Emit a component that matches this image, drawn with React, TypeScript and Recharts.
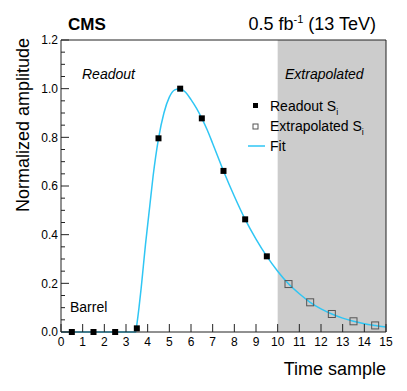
import React from "react";
import {
  ComposedChart,
  Line,
  Scatter,
  XAxis,
  YAxis,
  ReferenceArea,
} from "recharts";

type Pt = { x: number; y: number };

// readout samples (black squares)
const readoutX = [0.5, 1.5, 2.5, 3.5, 4.5, 5.5, 6.5, 7.5, 8.5, 9.5];
const readoutY = [0, 0, 0, 0.015, 0.796, 1.0, 0.878, 0.662, 0.463, 0.311];

// extrapolated samples (open squares)
const extrapX = [10.5, 11.5, 12.5, 13.5, 14.5];
const extrapY = [0.197, 0.122, 0.074, 0.044, 0.027];

// fit curve
const fitX = [
  0, 3.45, 3.5, 3.6, 3.7, 3.8, 3.9, 4.0, 4.1, 4.25, 4.5, 4.75, 5.0, 5.25, 5.5,
  5.75, 6.0, 6.25, 6.5, 6.75, 7.0, 7.5, 8.0, 8.5, 9.0, 9.5, 10, 10.5, 11, 11.5,
  12, 12.5, 13, 13.5, 14, 14.5, 15,
];
const fitY = [
  0, 0, 0.03, 0.1, 0.18, 0.27, 0.36, 0.44, 0.52, 0.64, 0.795, 0.9, 0.965,
  0.995, 1.0, 0.985, 0.955, 0.92, 0.878, 0.83, 0.775, 0.662, 0.558, 0.463,
  0.382, 0.311, 0.25, 0.198, 0.157, 0.122, 0.095, 0.074, 0.057, 0.044, 0.034,
  0.027, 0.021,
];

const xTicks = [0, 1, 2, 3, 4, 5, 6, 7, 8, 9, 10, 11, 12, 13, 14, 15];
const yMajorTicks = [0, 0.2, 0.4, 0.6, 0.8, 1.0, 1.2];
const yMinorTicks = [
  0.05, 0.1, 0.15, 0.25, 0.3, 0.35, 0.45, 0.5, 0.55, 0.65, 0.7, 0.75, 0.85,
  0.9, 0.95, 1.05, 1.1, 1.15,
];

const zip = (xs: number[], ys: number[]): Pt[] =>
  xs.map((x, i) => ({ x, y: ys[i] }));

const readout = zip(readoutX, readoutY);
const extrap = zip(extrapX, extrapY);
const fit = zip(fitX, fitY);
const yTicks = [...yMajorTicks, ...yMinorTicks].sort((a, b) => a - b);

const FRAME = "#222";
const FIT = "#2fc6f4";
const W = 407;
const H = 391;

const isMajor = (v: number) => Math.abs(v * 5 - Math.round(v * 5)) < 1e-6;

const BottomTick = (props: any) => {
  const { x, y, payload } = props;
  return (
    <g>
      <line x1={x} y1={y} x2={x} y2={y - 8} stroke={FRAME} />
      <text x={x} y={y + 14} textAnchor="middle" fontSize={12} fill="#000">
        {payload.value}
      </text>
    </g>
  );
};

const TopTick = (props: any) => {
  const { x, y } = props;
  return <line x1={x} y1={y} x2={x} y2={y + 8} stroke={FRAME} />;
};

const LeftTick = (props: any) => {
  const { x, y, payload } = props;
  const major = isMajor(payload.value);
  return (
    <g>
      <line x1={x} y1={y} x2={x + (major ? 8 : 4)} y2={y} stroke={FRAME} />
      {major && (
        <text x={x - 3} y={y} dy="0.35em" textAnchor="end" fontSize={12} fill="#000">
          {payload.value.toFixed(1)}
        </text>
      )}
    </g>
  );
};

const RightTick = (props: any) => {
  const { x, y, payload } = props;
  const major = isMajor(payload.value);
  return <line x1={x} y1={y} x2={x - (major ? 8 : 4)} y2={y} stroke={FRAME} />;
};

const FilledSquare = (p: any) => (
  <rect x={p.cx - 3} y={p.cy - 3} width={6} height={6} fill="#000" />
);

const OpenSquare = (p: any) => (
  <rect
    x={p.cx - 3.5}
    y={p.cy - 3.5}
    width={7}
    height={7}
    fill="none"
    stroke="#555"
  />
);

const PulseChart: React.FC = () => {
  return (
    <div
      style={{
        position: "absolute",
        left: 0,
        top: 0,
        width: W,
        height: H,
        background: "#fff",
        fontFamily: "'Liberation Sans', Arial, sans-serif",
      }}
    >
      <ComposedChart
        width={W}
        height={H}
        margin={{ top: 39, right: 20, bottom: 39, left: 60 }}
      >
        <ReferenceArea
          x1={10}
          x2={15}
          y1={0}
          y2={1.2}
          fill="#cccccc"
          fillOpacity={1}
          stroke="none"
        />
        <Line
          data={fit}
          dataKey="y"
          type="monotone"
          stroke={FIT}
          strokeWidth={1.5}
          dot={false}
          isAnimationActive={false}
        />
        <Scatter
          data={readout}
          dataKey="y"
          shape={FilledSquare}
          isAnimationActive={false}
        />
        <Scatter
          data={extrap}
          dataKey="y"
          shape={OpenSquare}
          isAnimationActive={false}
        />
        <XAxis
          dataKey="x"
          type="number"
          domain={[0, 15]}
          ticks={xTicks}
          interval={0}
          height={20}
          tickSize={0}
          tickMargin={0}
          tick={BottomTick}
          stroke={FRAME}
        />
        <XAxis
          xAxisId="top"
          orientation="top"
          dataKey="x"
          type="number"
          domain={[0, 15]}
          ticks={xTicks}
          interval={0}
          height={1}
          tickSize={0}
          tickMargin={0}
          tick={TopTick}
          stroke={FRAME}
        />
        <YAxis
          dataKey="y"
          type="number"
          domain={[0, 1.2]}
          ticks={yTicks}
          interval={0}
          width={1}
          tickSize={0}
          tickMargin={0}
          tick={LeftTick}
          stroke={FRAME}
        />
        <YAxis
          yAxisId="right"
          orientation="right"
          dataKey="y"
          type="number"
          domain={[0, 1.2]}
          ticks={yTicks}
          interval={0}
          width={1}
          tickSize={0}
          tickMargin={0}
          tick={RightTick}
          stroke={FRAME}
        />
      </ComposedChart>
      <svg
        width={W}
        height={H}
        style={{ position: "absolute", left: 0, top: 0, pointerEvents: "none" }}
      >
        <text x={68} y={30} fontSize={17} fontWeight="bold" fill="#000">
          CMS
        </text>
        <text x={376} y={30} fontSize={18} textAnchor="end" fill="#000">
          0.5 fb
          <tspan dy={-7} fontSize={11}>
            -1
          </tspan>
          <tspan dy={7}> (13 TeV)</tspan>
        </text>
        <text x={82} y={79} fontSize={14} fontStyle="italic" fill="#000">
          Readout
        </text>
        <text x={285} y={79} fontSize={14} fontStyle="italic" fill="#000">
          Extrapolated
        </text>
        <text x={70} y={312} fontSize={14} fill="#000">
          Barrel
        </text>
        <rect x={253} y={103} width={5} height={5} fill="#000" />
        <text x={270} y={111} fontSize={14} fill="#000">
          Readout S
          <tspan dy={4} fontSize={9}>
            i
          </tspan>
        </text>
        <rect x={253} y={124} width={5} height={5} fill="#fff" stroke="#555" />
        <text x={270} y={131} fontSize={14} fill="#000">
          Extrapolated S
          <tspan dy={4} fontSize={9}>
            i
          </tspan>
        </text>
        <line x1={248} y1={146} x2={265} y2={146} stroke={FIT} strokeWidth={1.5} />
        <text x={270} y={151} fontSize={14} fill="#000">
          Fit
        </text>
        <text x={386} y={375} fontSize={18} textAnchor="end" fill="#000">
          Time sample
        </text>
        <text
          x={29}
          y={38}
          fontSize={18}
          textAnchor="end"
          fill="#000"
          transform="rotate(-90 29 38)"
        >
          Normalized amplitude
        </text>
      </svg>
    </div>
  );
};

export default function App() {
  return <PulseChart />;
}
